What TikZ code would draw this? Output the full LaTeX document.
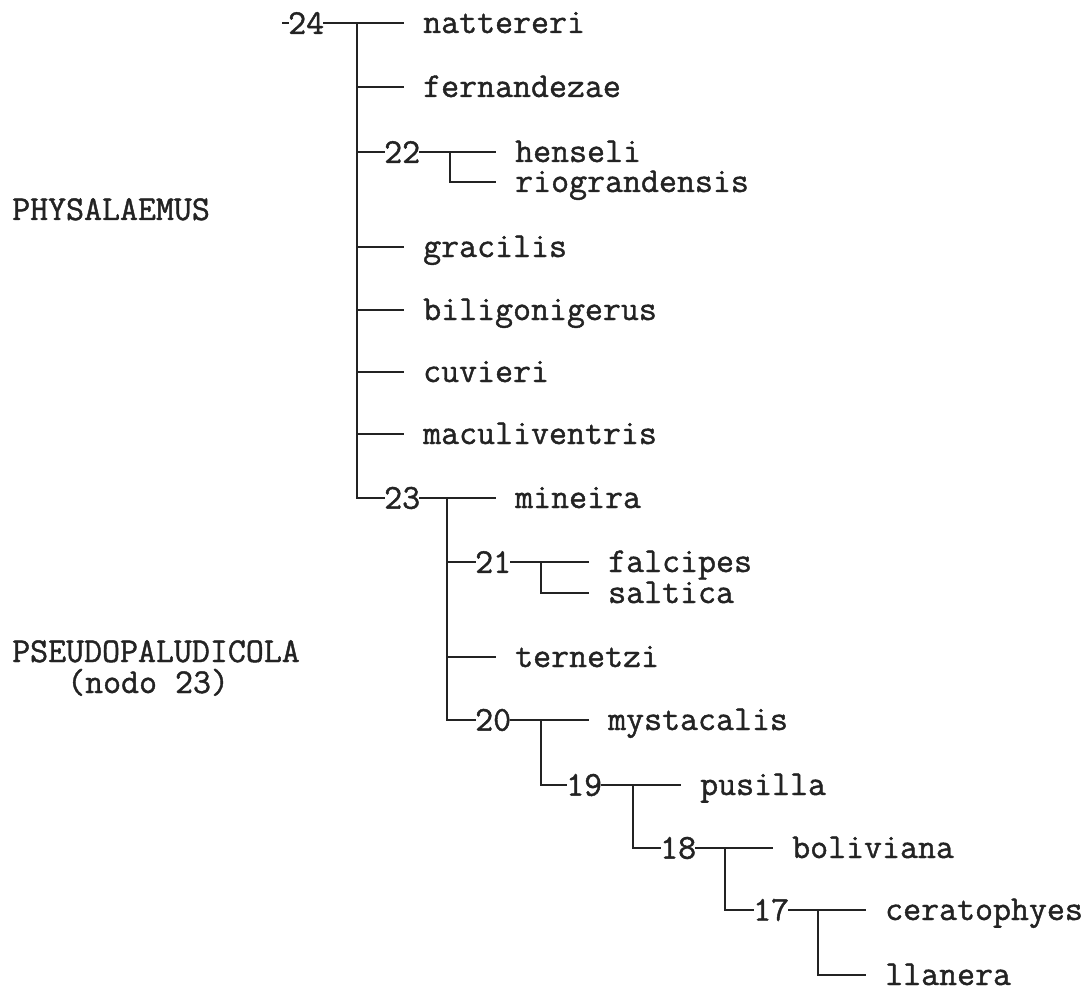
\documentclass[tikz,border=0pt]{standalone}
\usepackage{fontspec}
\newfontfamily\courfont{Latin Modern Mono}[FakeBold=1.2]
\definecolor{ink}{RGB}{35,35,35}
\begin{document}
\begin{tikzpicture}[x=1pt,y=-1pt,
  every node/.style={font=\courfont\fontsize{34.9}{40}\selectfont, text=ink},
  num/.style={anchor=west, inner sep=0pt},
  leaf/.style={anchor=west, inner xsep=20pt, inner ysep=0pt, text height=20pt, text depth=0pt},
  lbl/.style={anchor=base west, inner sep=0pt},
  edge/.style={draw=ink, line width=1.8pt, line cap=rect}]
\useasboundingbox (0,0) rectangle (1092,987);
% side labels
\node[lbl] (phy) at (12,220) {PHYSALAEMUS};
\node[lbl] (pse) at (12,662) {PSEUDOPALUDICOLA};
\node[lbl] (nodo) at (67,693) {(nodo 23)};
% root 24
\coordinate (r0) at (283,23);
\node[num] (n24) at (288,23) {24};
\coordinate (j24) at (357,23);
\node[leaf] (nat) at (403,23) {nattereri};
\node[leaf] (fer) at (403,87) {fernandezae};
\node[num] (n22) at (384,152) {22};
\coordinate (j22) at (450,152);
\node[leaf] (hen) at (495,152) {henseli};
\node[leaf] (rio) at (495,182) {riograndensis};
\node[leaf] (gra) at (403,247) {gracilis};
\node[leaf] (bil) at (403,310) {biligonigerus};
\node[leaf] (cuv) at (403,372) {cuvieri};
\node[leaf] (mac) at (403,434) {maculiventris};
\node[num] (n23) at (384,498) {23};
\coordinate (j23) at (447,498);
\node[leaf] (min) at (495,498) {mineira};
\node[num] (n21) at (475,562) {21};
\coordinate (j21) at (541,562);
\node[leaf] (fal) at (588,562) {falcipes};
\node[leaf] (sal) at (588,593) {saltica};
\node[leaf] (ter) at (495,657) {ternetzi};
\node[num] (n20) at (475,720) {20};
\coordinate (j20) at (541,720);
\node[leaf] (mys) at (588,720) {mystacalis};
\node[num] (n19) at (566,785) {19};
\coordinate (j19) at (633,785);
\node[leaf] (pus) at (680,785) {pusilla};
\node[num] (n18) at (660,848) {18};
\coordinate (j18) at (725,848);
\node[leaf] (bol) at (772,848) {boliviana};
\node[num] (n17) at (753,910) {17};
\coordinate (j17) at (818,910);
\node[leaf] (cer) at (865,910) {ceratophyes};
\node[leaf] (lla) at (865,975) {llanera};
% connectors
\draw[edge] (r0) -- (n24.west);
\draw[edge] (n24.east) -- (nat.west);
\draw[edge] (j24) |- (n23.west);
\draw[edge] (j24|-fer.west) -- (fer.west);
\draw[edge] (j24|-n22.west) -- (n22.west);
\draw[edge] (n22.east) -- (hen.west);
\draw[edge] (j22) |- (rio.west);
\draw[edge] (j24|-gra.west) -- (gra.west);
\draw[edge] (j24|-bil.west) -- (bil.west);
\draw[edge] (j24|-cuv.west) -- (cuv.west);
\draw[edge] (j24|-mac.west) -- (mac.west);
\draw[edge] (n23.east) -- (min.west);
\draw[edge] (j23) |- (n20.west);
\draw[edge] (j23|-n21.west) -- (n21.west);
\draw[edge] (n21.east) -- (fal.west);
\draw[edge] (j21) |- (sal.west);
\draw[edge] (j23|-ter.west) -- (ter.west);
\draw[edge] (n20.east) -- (mys.west);
\draw[edge] (j20) |- (n19.west);
\draw[edge] (n19.east) -- (pus.west);
\draw[edge] (j19) |- (n18.west);
\draw[edge] (n18.east) -- (bol.west);
\draw[edge] (j18) |- (n17.west);
\draw[edge] (n17.east) -- (cer.west);
\draw[edge] (j17) |- (lla.west);
\end{tikzpicture}
\end{document}
